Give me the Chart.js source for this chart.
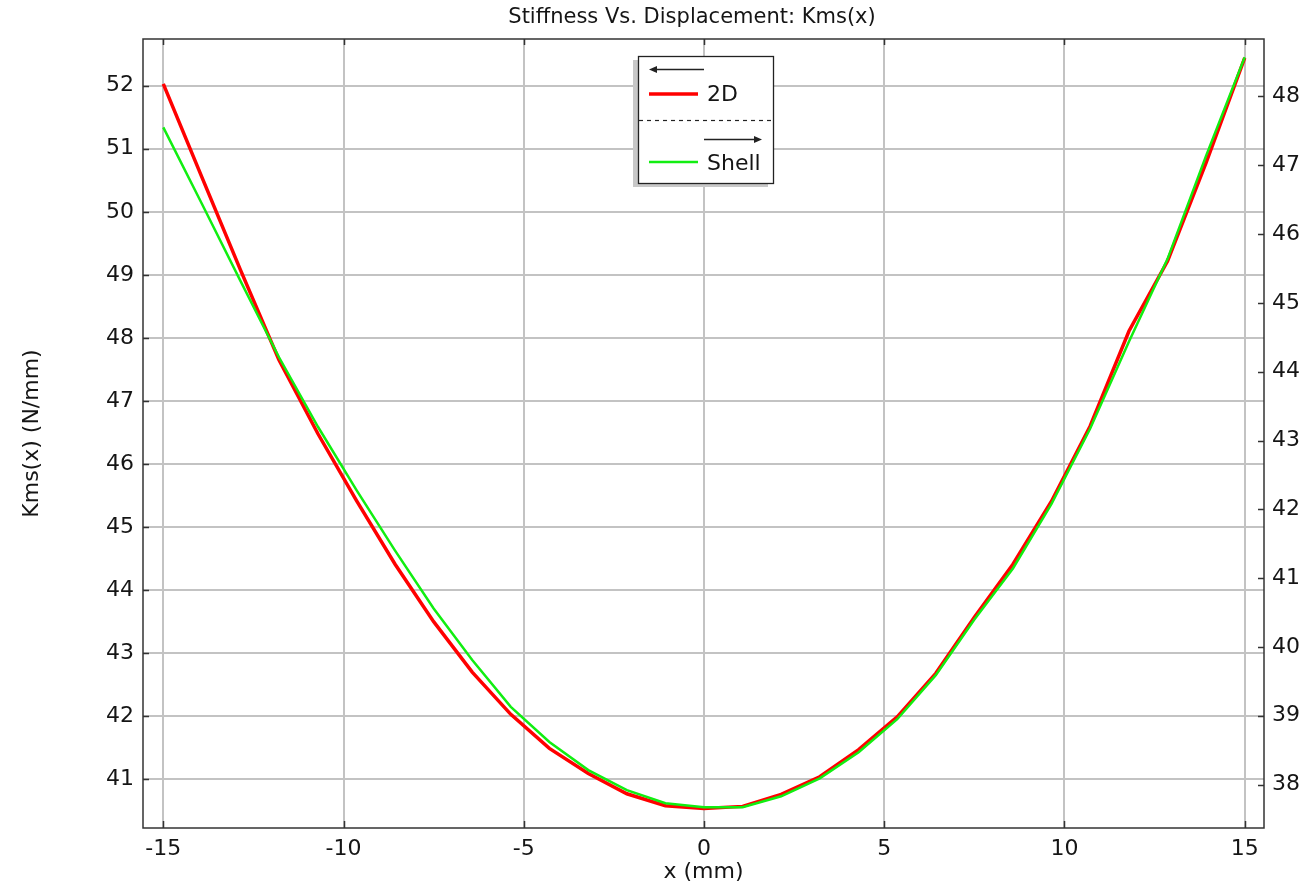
<!DOCTYPE html>
<html>
<head>
<meta charset="utf-8">
<title>Stiffness Vs. Displacement</title>
<script src="https://cdn.jsdelivr.net/npm/chart.js@4.4.1/dist/chart.umd.min.js"></script>
<style>
  html, body { margin: 0; padding: 0; background: #ffffff; }
  #wrap { width: 1307px; height: 886px; }
</style>
</head>
<body>
<div id="wrap"><canvas id="chart" width="1307" height="886"></canvas></div>
<script>
// Displacement samples (mm)
const displacement = [-15, -13.93, -12.86, -11.79, -10.71, -9.64, -8.57, -7.5, -6.43, -5.36, -4.29, -3.21, -2.14, -1.07, 0,
                      1.07, 2.14, 3.21, 4.29, 5.36, 6.43, 7.5, 8.57, 9.64, 10.71, 11.79, 12.86, 13.93, 15];
// Kms(x) from the 2D model (left axis, N/mm)
const kms2D = [52.03, 50.55, 49.08, 47.65, 46.48, 45.42, 44.41, 43.50, 42.70, 42.03, 41.49, 41.09, 40.77, 40.58, 40.535,
               40.57, 40.76, 41.04, 41.47, 41.99, 42.68, 43.57, 44.41, 45.41, 46.60, 48.11, 49.22, 50.78, 52.44];
// Kms(x) from the shell model (right axis, N/mm)
const kmsShell = [47.55, 46.44, 45.32, 44.21, 43.20, 42.28, 41.40, 40.56, 39.81, 39.13, 38.62, 38.21, 37.92, 37.73, 37.67,
                  37.67, 37.83, 38.09, 38.47, 38.95, 39.59, 40.40, 41.14, 42.08, 43.17, 44.44, 45.64, 47.14, 48.57];

const xTicks = [-15, -10, -5, 0, 5, 10, 15];
const leftTicks = [41, 42, 43, 44, 45, 46, 47, 48, 49, 50, 51, 52];
const rightTicks = [38, 39, 40, 41, 42, 43, 44, 45, 46, 47, 48];

const chartTitle = 'Stiffness Vs. Displacement: Kms(x)';
const xTitle = 'x (mm)';
const yTitle = 'Kms(x) (N/mm)';
const legendLabels = ['2D', 'Shell'];

const FONT = 'DejaVu Sans';
const TEXT = '#151515';
const GRID = '#c3c3c3';
const RED = '#ff0000';
const GREEN = '#11ee11';

const pts = (ys) => displacement.map((x, i) => ({ x: x, y: ys[i] }));
const fixedTicks = (list) => (scale) => { scale.ticks = list.map(v => ({ value: v })); };

// Frame around the plot, inward tick marks and the title
const framePlugin = {
  id: 'frame',
  afterDraw(chart) {
    const { ctx, chartArea: a, scales } = chart;
    ctx.save();
    ctx.strokeStyle = '#333333';
    ctx.lineWidth = 1.5;
    ctx.strokeRect(a.left, a.top, a.right - a.left, a.bottom - a.top);
    ctx.beginPath();
    xTicks.forEach(v => {
      const px = Math.round(scales.x.getPixelForValue(v)) + 0.5;
      ctx.moveTo(px, a.bottom); ctx.lineTo(px, a.bottom - 7);
      ctx.moveTo(px, a.top); ctx.lineTo(px, a.top + 6);
    });
    leftTicks.forEach(v => {
      const py = Math.round(scales.yL.getPixelForValue(v)) + 0.5;
      ctx.moveTo(a.left, py); ctx.lineTo(a.left + 6, py);
    });
    rightTicks.forEach(v => {
      const py = Math.round(scales.yR.getPixelForValue(v)) + 0.5;
      ctx.moveTo(a.right, py); ctx.lineTo(a.right - 6, py);
    });
    ctx.stroke();

    ctx.fillStyle = TEXT;
    ctx.font = '21px "' + FONT + '"';
    ctx.textAlign = 'center';
    ctx.textBaseline = 'middle';
    ctx.fillText(chartTitle, 692, 18);
    ctx.restore();
  }
};

// Legend box with axis arrows and a dashed separator
const legendPlugin = {
  id: 'axisLegend',
  afterDraw(chart) {
    const { ctx } = chart;
    const bx = 638, by = 56, bw = 135, bh = 127;
    ctx.save();
    ctx.fillStyle = '#c8c8c8';
    ctx.fillRect(bx - 5, by + 4, bw, bh);
    ctx.fillStyle = '#ffffff';
    ctx.fillRect(bx, by, bw, bh);
    ctx.strokeStyle = '#222222';
    ctx.lineWidth = 1.3;
    ctx.strokeRect(bx + 0.5, by + 0.5, bw, bh);

    const arrow = (x0, x1, y) => {
      const dir = Math.sign(x1 - x0);
      ctx.strokeStyle = '#222222';
      ctx.fillStyle = '#222222';
      ctx.lineWidth = 1.3;
      ctx.beginPath();
      ctx.moveTo(x0, y); ctx.lineTo(x1 - dir * 6, y);
      ctx.stroke();
      ctx.beginPath();
      ctx.moveTo(x1, y);
      ctx.lineTo(x1 - dir * 8, y - 3.5);
      ctx.lineTo(x1 - dir * 8, y + 3.5);
      ctx.closePath();
      ctx.fill();
    };
    arrow(704, 649, 69.5);
    arrow(704, 762, 139.5);

    ctx.setLineDash([4, 4]);
    ctx.lineWidth = 1.2;
    ctx.beginPath();
    ctx.moveTo(bx + 1, 120.5); ctx.lineTo(bx + bw, 120.5);
    ctx.stroke();
    ctx.setLineDash([]);

    ctx.lineWidth = 3.5;
    ctx.strokeStyle = RED;
    ctx.beginPath(); ctx.moveTo(649, 94); ctx.lineTo(698, 94); ctx.stroke();
    ctx.lineWidth = 2.5;
    ctx.strokeStyle = GREEN;
    ctx.beginPath(); ctx.moveTo(649, 162); ctx.lineTo(698, 162); ctx.stroke();

    ctx.fillStyle = TEXT;
    ctx.font = '22px "' + FONT + '"';
    ctx.textAlign = 'left';
    ctx.textBaseline = 'middle';
    ctx.fillText(legendLabels[0], 707, 95);
    ctx.fillText(legendLabels[1], 707, 164);
    ctx.restore();
  }
};

const tickFont = { family: FONT, size: 22 };

new Chart(document.getElementById('chart'), {
  type: 'line',
  data: {
    datasets: [
      { label: legendLabels[1], data: pts(kmsShell), yAxisID: 'yR', borderColor: GREEN, borderWidth: 2.5,
        pointRadius: 0, tension: 0, fill: false, order: 0 },
      { label: legendLabels[0], data: pts(kms2D), yAxisID: 'yL', borderColor: RED, borderWidth: 3.5,
        pointRadius: 0, tension: 0, fill: false, order: 1 }
    ]
  },
  options: {
    responsive: false,
    animation: false,
    devicePixelRatio: 1,
    layout: { padding: { top: 39, left: 0, right: 0, bottom: 0 } },
    plugins: { legend: { display: false }, tooltip: { enabled: false }, title: { display: false } },
    scales: {
      x: {
        type: 'linear', position: 'bottom', min: -15.563, max: 15.535,
        afterBuildTicks: fixedTicks(xTicks),
        afterFit: (s) => { s.height = 58; },
        grid: { color: GRID, lineWidth: 2, drawTicks: false },
        border: { display: false },
        ticks: { font: tickFont, color: TEXT, padding: 8, maxRotation: 0, autoSkip: false },
        title: { display: true, text: xTitle, font: tickFont, color: TEXT, padding: { top: 0, bottom: 1 } }
      },
      yL: {
        type: 'linear', position: 'left', min: 40.227, max: 52.741,
        afterBuildTicks: fixedTicks(leftTicks),
        afterFit: (s) => { s.width = 143; },
        grid: { color: GRID, lineWidth: 2, drawTicks: false },
        border: { display: false },
        ticks: { font: tickFont, color: TEXT, padding: 9, autoSkip: false },
        title: { display: true, text: yTitle, font: tickFont, color: TEXT, padding: { top: 19, bottom: 0 } }
      },
      yR: {
        type: 'linear', position: 'right', min: 37.369, max: 48.835,
        afterBuildTicks: fixedTicks(rightTicks),
        afterFit: (s) => { s.width = 43; },
        grid: { drawOnChartArea: false, drawTicks: false },
        border: { display: false },
        ticks: { font: tickFont, color: TEXT, padding: 8, autoSkip: false }
      }
    }
  },
  plugins: [framePlugin, legendPlugin]
});
</script>
</body>
</html>
